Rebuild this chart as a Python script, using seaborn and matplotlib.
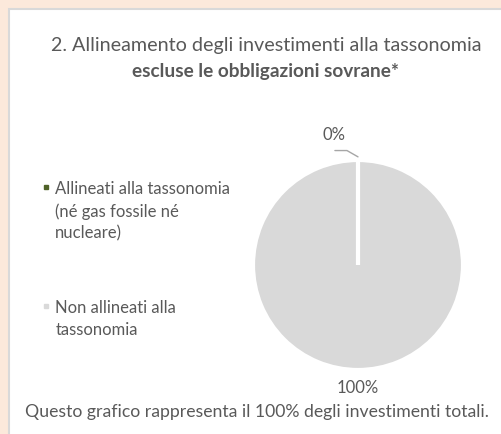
import matplotlib
matplotlib.use("Agg")
import matplotlib.pyplot as plt
from matplotlib.patches import Rectangle
from matplotlib.lines import Line2D
import numpy as np
import seaborn as sns

# Data
shares = [0, 100]
series_names = ["Allineati alla tassonomia (né gas fossile né nucleare)",
                "Non allineati alla tassonomia"]
legend_lines = [["Allineati alla tassonomia", "(né gas fossile né", "nucleare)"],
                ["Non allineati alla", "tassonomia"]]
title_line1 = "2. Allineamento degli investimenti alla tassonomia"
title_line2 = "escluse le obbligazioni sovrane*"
footer = "Questo grafico rappresenta il 100% degli investimenti totali."

colors = ["#4F6228", "#D9D9D9"]
text_color = "#595959"

sns.set_theme(style="white")
plt.rcParams['font.family'] = ['Lato', 'DejaVu Sans']

W, H = 502, 435
fig = plt.figure(figsize=(W / 100, H / 100), dpi=100, facecolor='#FCE9DB')

# white card with light grey border (behind everything)
panel = Rectangle((9 / W, -0.1), 1.1, 1 - 10 / H + 0.1, transform=fig.transFigure,
                  facecolor='white', edgecolor='#D9D9D9', linewidth=1.5, zorder=-5)
fig.patches.append(panel)

# pie
ax = fig.add_axes([(358 - 131.25) / W, (169 - 131.25) / H, 262.5 / W, 262.5 / H])
ax.set_zorder(2)
wedges, texts, autotexts = ax.pie(shares, colors=colors, startangle=90, counterclock=False,
                                  autopct='%1.0f%%', pctdistance=1.16,
                                  wedgeprops=dict(edgecolor='white', linewidth=3),
                                  textprops=dict(color=text_color, fontsize=12))
# the empty slice only shows as its white border, keep it above the full one
wedges[0].set_zorder(wedges[1].get_zorder() + 1)

# move the 0% label up-left and add a leader line to the slice
theta = np.deg2rad(wedges[0].theta1)
tx, ty = np.cos(theta), np.sin(theta)
autotexts[0].set_position((tx - 0.23, ty + 0.25))
ax.plot([tx - 0.22, tx - 0.105, tx], [ty + 0.09, ty + 0.09, ty + 0.03],
        color='#A6A6A6', linewidth=1, clip_on=False)

# titles
fig.text(266 / W, 1 - 46 / H, title_line1, ha='center', va='center',
         fontsize=14.2, color=text_color)
fig.text(266 / W, 1 - 72 / H, title_line2, ha='center', va='center',
         fontsize=13.7, fontweight='bold', color=text_color)
fig.text(257 / W, 1 - 412 / H, footer, ha='center', va='center',
         fontsize=12.7, color=text_color)

# legend, one row per text line so the marker sits on the first line
tops = [181, 300]
for i, lines in enumerate(legend_lines):
    handles = [Line2D([], [], marker='s', linestyle='none', markersize=3.5, color=colors[i])]
    handles += [Line2D([], [], linestyle='none') for _ in lines[1:]]
    fig.legend(handles, lines, loc='upper left', bbox_to_anchor=(42 / W, 1 - tops[i] / H),
               frameon=False, handlelength=0.5, handletextpad=0.3, borderpad=0,
               borderaxespad=0, labelspacing=0.36, fontsize=12, labelcolor=text_color)

fig.savefig("out.png", dpi=100, facecolor=fig.get_facecolor())
